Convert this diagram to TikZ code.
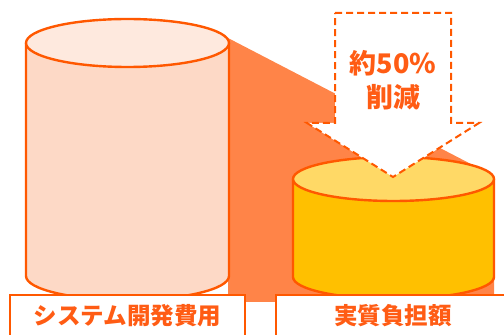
\documentclass[tikz,border=0pt]{standalone}
\usepackage{fontspec}
\newfontfamily\cjk{Noto Sans CJK JP}
\definecolor{edge}{RGB}{255,88,0}
\definecolor{txt}{RGB}{255,92,20}
\definecolor{peach}{RGB}{253,217,198}
\definecolor{peachtop}{RGB}{254,233,222}
\definecolor{shadowc}{RGB}{255,132,72}
\definecolor{amber}{RGB}{255,192,0}
\definecolor{ambertop}{RGB}{255,217,102}
\tikzset{
  cyl/.style={draw=edge, line width=2.4pt, line join=round},
  lab/.style={draw=edge, fill=white, line width=2pt},
  labtext/.style={text=txt, font=\cjk\bfseries\fontsize{23.5}{28}\selectfont, inner sep=0pt},
  arrowtext/.style={text=txt, font=\cjk\bfseries\fontsize{27}{32}\selectfont, inner sep=0pt},
  dasharrow/.style={draw=edge, fill=white, line width=2pt, dash pattern=on 7pt off 4pt, line join=miter},
}
\begin{document}
\begin{tikzpicture}[x=1pt,y=1pt]
\useasboundingbox (0,0) rectangle (504,335);
% shadow
\fill[fill=shadowc] (228,297) -- (494,159) -- (494,33) -- (228,33) -- cycle;
% left cylinder
\coordinate (lc) at (127.5,292);
\path[cyl, fill=peach] (26,292) -- (26,59) arc[start angle=180, end angle=360, x radius=101.5pt, y radius=24pt] -- (229,292) -- cycle;
\path[cyl, fill=peachtop] (lc) ellipse[x radius=101.5pt, y radius=24pt];
% right cylinder
\coordinate (rc) at (393.5,156);
\path[cyl, fill=amber] (293,156) -- (293,58) arc[start angle=180, end angle=360, x radius=100.5pt, y radius=22pt] -- (494,156) -- cycle;
\path[cyl, fill=ambertop] (rc) ellipse[x radius=100.5pt, y radius=22pt];
% arrow
\coordinate (tip) at (393,158);
\path[dasharrow] (335,322) -- (451,322) -- (451,212) -- (479,212) -- (tip) -- (307,212) -- (335,212) -- cycle;
\node[arrowtext] (pct) at (393,272) {約50\%};
\node[arrowtext] (cut) at (393,238) {削減};
% label boxes
\path[lab] (10,-5) rectangle (245,40);
\path[lab] (276,-5) rectangle (512,40);
\node[labtext] (l1) at (127.5,19) {システム開発費用};
\node[labtext] (l2) at (393,19) {実質負担額};
\end{tikzpicture}
\end{document}
